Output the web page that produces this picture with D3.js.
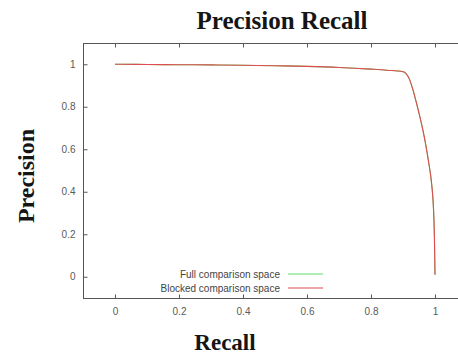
<!DOCTYPE html>
<html><head><meta charset="utf-8">
<script src="https://cdn.jsdelivr.net/npm/d3@7"></script>
<style>body{margin:0;background:#fff}svg{display:block}</style>
</head><body>
<svg id="c" width="458" height="356"></svg>
<script>
const recall = [0, 0.02, 0.1, 0.2, 0.3, 0.4, 0.5, 0.6, 0.7, 0.8, 0.85, 0.9, 0.905, 0.91, 0.915, 0.92, 0.93, 0.94, 0.95, 0.96, 0.97, 0.98, 0.99, 0.995, 0.998, 1.0];
const fullPrecision = [1.0, 1.0, 0.999, 0.998, 0.997, 0.995, 0.993, 0.99, 0.985, 0.977, 0.972, 0.965, 0.962, 0.955, 0.945, 0.93, 0.885, 0.83, 0.77, 0.705, 0.63, 0.54, 0.43, 0.33, 0.2, 0.01];
const blockedPrecision = [1.0, 1.0, 0.999, 0.998, 0.997, 0.995, 0.993, 0.99, 0.985, 0.977, 0.972, 0.965, 0.962, 0.955, 0.945, 0.93, 0.885, 0.83, 0.77, 0.705, 0.63, 0.54, 0.43, 0.33, 0.2, 0.01];
const xTicks = [0, 0.2, 0.4, 0.6, 0.8, 1];
const yTicks = [0, 0.2, 0.4, 0.6, 0.8, 1];
const seriesNames = ["Full comparison space", "Blocked comparison space"];
const seriesColors = ["#5fdc6a", "#e04a50"];

const svg = d3.select("#c");
const x = d3.scaleLinear().domain([-0.1, 1.1]).range([83, 467]);
const y = d3.scaleLinear().domain([-0.1, 1.1]).range([298, 43]);
const axisColor = "#555";
const labelColor = "#5a5a5a";

// frame
const g = svg.append("g");
g.append("line").attr("x1", 83).attr("x2", 467).attr("y1", 43.5).attr("y2", 43.5).attr("stroke", axisColor);
g.append("line").attr("x1", 83).attr("x2", 467).attr("y1", 298.5).attr("y2", 298.5).attr("stroke", axisColor);
g.append("line").attr("x1", 83.5).attr("x2", 83.5).attr("y1", 43).attr("y2", 299).attr("stroke", axisColor);

// axes
const xAxis = d3.axisBottom(x).tickValues(xTicks).tickSize(-4).tickPadding(9).tickFormat(d3.format("~g"));
const gx = svg.append("g").attr("transform", "translate(0,298.5)").call(xAxis);
const xTop = d3.axisTop(x).tickValues(xTicks).tickSize(-4).tickFormat("");
const gxt = svg.append("g").attr("transform", "translate(0,43.5)").call(xTop);
const yAxis = d3.axisLeft(y).tickValues(yTicks).tickSize(-4).tickPadding(8).tickFormat(d3.format("~g"));
const gy = svg.append("g").attr("transform", "translate(83.5,0)").call(yAxis);
[gx, gxt, gy].forEach(a => {
  a.select(".domain").remove();
  a.selectAll(".tick line").attr("stroke", axisColor);
  a.selectAll(".tick text").attr("fill", labelColor).style("font-family", "Liberation Sans, Arial, sans-serif").style("font-size", "10px");
});

// lines
const line = d3.line().x((d, i) => x(recall[i])).y(d => y(d)).curve(d3.curveMonotoneX);
[fullPrecision, blockedPrecision].forEach((s, k) => {
  svg.append("path").attr("d", line(s)).attr("fill", "none").attr("stroke", seriesColors[k]).attr("stroke-width", 1.1);
});

// legend
seriesNames.forEach((n, k) => {
  const ly = 274 + k * 14;
  svg.append("text").attr("x", 280).attr("y", ly).attr("dy", "0.35em").attr("text-anchor", "end")
    .attr("fill", "#444").style("font-family", "Liberation Sans, Arial, sans-serif").style("font-size", "10px").text(n);
  svg.append("line").attr("x1", 288).attr("x2", 323).attr("y1", ly).attr("y2", ly).attr("stroke", seriesColors[k]).attr("stroke-width", 1.1);
});

// titles
const serif = "Liberation Serif, Times New Roman, serif";
svg.append("text").attr("x", 282).attr("y", 29).attr("text-anchor", "middle")
  .style("font-family", serif).style("font-weight", "bold").style("font-size", "25px").attr("fill", "#151515").text("Precision Recall");
svg.append("text").attr("x", 225).attr("y", 350).attr("text-anchor", "middle")
  .style("font-family", serif).style("font-weight", "bold").style("font-size", "23px").attr("fill", "#151515").text("Recall");
svg.append("text").attr("transform", "translate(34,176) rotate(-90)").attr("text-anchor", "middle")
  .style("font-family", serif).style("font-weight", "bold").style("font-size", "24px").attr("fill", "#151515").text("Precision");
</script>
</body></html>
